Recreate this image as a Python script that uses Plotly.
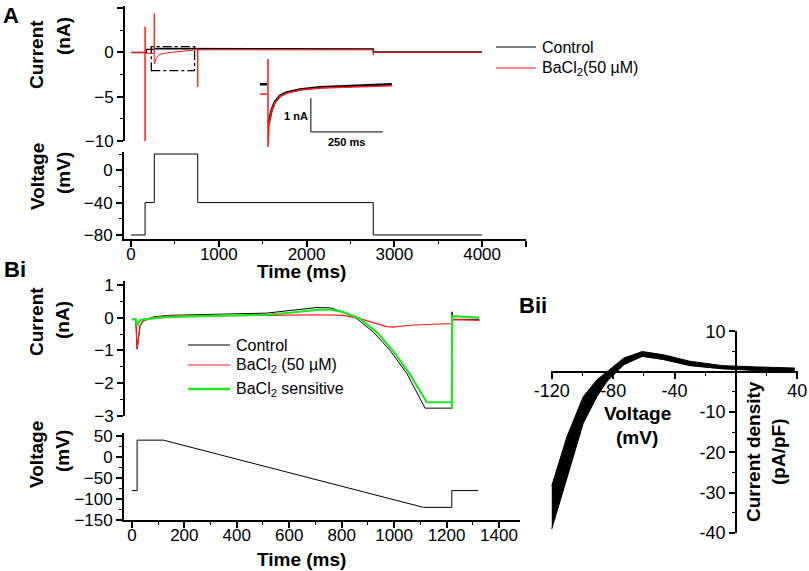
import plotly.graph_objects as go

W, H = 809, 571

def fx(px):
    return px / W

def fy(py):
    return 1 - py / H

# ---- Panel A: current traces (ms, nA)
a_ctrl_t = [0, 175, 175, 265, 265, 760, 760, 2760, 2760, 4000]
a_ctrl_i = [0, 0, 0.35, 0.35, 0.45, 0.45, 0.4, 0.4, 0.05, 0.05]
a_ba_t = [0, 160, 160, 160, 162, 265, 265, 265, 292, 330, 406, 557, 705,
          760, 760, 760, 763, 2760, 2760, 2762, 4000]
a_ba_i = [0, 0, -10, 2.9, -0.1, -0.1, 4.4, -1.3, -0.55, -0.22, -0.05, 0.15, 0.27,
          0.3, -3.9, 0.45, 0.3, 0.3, -2.8, 0.02, 0.02]

# dash-dot zoom box (ms, nA)
box_t = [231, 724]
box_i = [-2.05, 0.65]

# inset (ms, nA relative to control holding level)
ins_ctrl_t = [17, 42, None, 47, 48.6, 58, 69.4, 86.8, 110, 156, 226, 340, 475]
ins_ctrl_i = [0, 0, None, -1.15, -1.1, -0.75, -0.51, -0.34, -0.24, -0.15, -0.09, -0.04, 0.0]
ins_ba_t = [17, 42, None, 45, 45, 48.6, 58, 69.4, 86.8, 110, 156, 226, 340, 475]
ins_ba_i = [-0.29, -0.29, None, 0.74, -1.84, -1.2, -0.78, -0.53, -0.36, -0.26, -0.17, -0.11, -0.07, -0.04]
scale_t = [194, 194, 444]
scale_i = [-0.4, -1.4, -1.4]

# ---- Panel A: voltage protocol (ms, mV)
a_volt_t = [0, 160, 265, 760, 2760, 4000]
a_volt_v = [-80, -40, 20, -40, -80, -80]

# ---- Panel Bi: current traces (ms, nA)
bi_ctrl_t = [0, 15, 20, 31, 43, 81, 132, 260, 387, 514, 603, 705, 756, 807, 858,
             921, 985, 1049, 1118, 1220, 1221, 1221, 1225, 1325]
bi_ctrl_i = [-0.05, -0.05, -0.96, -0.25, -0.1, 0.02, 0.07, 0.1, 0.11, 0.14, 0.22,
             0.31, 0.3, 0.17, -0.03, -0.44, -1.0, -1.71, -2.76, -2.76, 0.18, -0.05, -0.05, -0.05]
bi_ba_t = [0, 15, 20, 31, 43, 81, 132, 260, 387, 514, 603, 705, 807, 870,
           921, 972, 997, 1061, 1150, 1219, 1222, 1325]
bi_ba_i = [-0.05, -0.05, -0.95, -0.25, -0.1, 0.0, 0.05, 0.05, 0.06, 0.07, 0.08,
           0.09, 0.07, -0.03, -0.15, -0.27, -0.29, -0.23, -0.2, -0.18, -0.06, -0.08]
bi_sens_t = [0, 15, 20, 30, 43, 132, 260, 387, 514, 603, 705, 756, 807, 870,
             934, 1000, 1060, 1125, 1220, 1220, 1222, 1325]
bi_sens_i = [-0.05, -0.05, -0.25, -0.08, -0.05, 0.02, 0.05, 0.07, 0.09, 0.15,
             0.24, 0.25, 0.17, -0.03, -0.44, -1.05, -1.72, -2.58, -2.58, -2.8, 0.05, 0.0]

# ---- Panel Bi: voltage ramp (ms, mV)
bi_volt_t = [0, 20, 20, 120, 1112, 1220, 1220, 1320]
bi_volt_v = [-80, -80, 40, 40, -120, -120, -80, -80]

# ---- Panel Bii: I-V band (mV, pA/pF)
iv_v = [-120, -110, -99.5, -90.6, -84, -73, -61, -47, -30, -8.4, 13.4, 38.4]
iv_upper = [-28.3, -16, -6.2, -2, 0, 3.4, 5, 4.2, 2.6, 1.5, 1.2, 0.9]
iv_lower = [-39, -26, -12.8, -6.2, -2.4, 1.75, 3.8, 3, 1.5, 0.7, 0.3, 0.1]

# legend labels
a_names = ["Control", "BaCl<sub>2</sub>(50 µM)"]
bi_names = ["Control", "BaCl<sub>2</sub> (50 µM)", "BaCl<sub>2</sub> sensitive"]

FONT = "Liberation Sans"
RED = "#ff1a1a"
GREEN = "#22e622"

fig = go.Figure()

# A current
fig.add_trace(go.Scatter(x=a_ctrl_t, y=a_ctrl_i, mode="lines", name=a_names[0],
                         line=dict(color="black", width=1.4), xaxis="x", yaxis="y"))
fig.add_trace(go.Scatter(x=a_ba_t, y=a_ba_i, mode="lines", name=a_names[1],
                         line=dict(color=RED, width=1), xaxis="x", yaxis="y"))
# inset
fig.add_trace(go.Scatter(x=ins_ctrl_t, y=ins_ctrl_i, mode="lines",
                         line=dict(color="black", width=2.5), xaxis="x3", yaxis="y3"))
fig.add_trace(go.Scatter(x=ins_ba_t, y=ins_ba_i, mode="lines",
                         line=dict(color=RED, width=1.5), xaxis="x3", yaxis="y3"))
fig.add_trace(go.Scatter(x=scale_t, y=scale_i, mode="lines",
                         line=dict(color="black", width=1), xaxis="x3", yaxis="y3"))
# A voltage
fig.add_trace(go.Scatter(x=a_volt_t, y=a_volt_v, mode="lines",
                         line=dict(color="black", width=1, shape="hv"),
                         xaxis="x2", yaxis="y2"))

# Bi current
fig.add_trace(go.Scatter(x=bi_ctrl_t, y=bi_ctrl_i, mode="lines", name=bi_names[0],
                         line=dict(color="black", width=1), xaxis="x4", yaxis="y4"))
fig.add_trace(go.Scatter(x=bi_ba_t, y=bi_ba_i, mode="lines", name=bi_names[1],
                         line=dict(color=RED, width=1.2), xaxis="x4", yaxis="y4"))
fig.add_trace(go.Scatter(x=bi_sens_t, y=bi_sens_i, mode="lines", name=bi_names[2],
                         line=dict(color=GREEN, width=2.2), xaxis="x4", yaxis="y4"))
# Bi voltage
fig.add_trace(go.Scatter(x=bi_volt_t, y=bi_volt_v, mode="lines",
                         line=dict(color="black", width=1), xaxis="x5", yaxis="y5"))

# Bii band
fig.add_trace(go.Scatter(x=iv_v, y=iv_lower, mode="lines",
                         line=dict(color="black", width=1), xaxis="x6", yaxis="y6"))
fig.add_trace(go.Scatter(x=iv_v, y=iv_upper, mode="lines", fill="tonexty",
                         fillcolor="black", line=dict(color="black", width=1),
                         xaxis="x6", yaxis="y6"))

# zoom box in A
fig.add_shape(type="rect", xref="x", yref="y", x0=box_t[0], x1=box_t[1],
              y0=box_i[0], y1=box_i[1], line=dict(color="black", width=1.3, dash="dashdot"))

# hand-drawn legends (line sample + label)
legend_items = [
    (a_names[0], "black", 1.2, 496, 536, 47),
    (a_names[1], RED, 1.2, 496, 536, 68),
    (bi_names[0], "black", 1.2, 188, 230, 345),
    (bi_names[1], RED, 1.2, 188, 230, 365),
    (bi_names[2], GREEN, 2.5, 188, 230, 389),
]
for name, col, lw, x0, x1, yy in legend_items:
    fig.add_shape(type="line", xref="paper", yref="paper", x0=fx(x0), x1=fx(x1),
                  y0=fy(yy), y1=fy(yy), line=dict(color=col, width=lw))
    fig.add_annotation(text=name, x=fx(x1 + 4), y=fy(yy), xref="paper", yref="paper",
                       showarrow=False, xanchor="left", yanchor="middle",
                       font=dict(family=FONT, size=16, color="black"))

tickfont = dict(family=FONT, size=17, color="black")
axis_common = dict(showline=True, linecolor="black", linewidth=1.8, ticks="outside",
                   ticklen=6, tickwidth=1.5, tickcolor="black", showgrid=False,
                   zeroline=False, tickfont=tickfont, automargin=False)
minor_common = dict(ticks="outside", ticklen=3, tickwidth=1.2, tickcolor="black", showgrid=False)

hidden = dict(visible=False, showgrid=False, zeroline=False, automargin=False)

fig.update_layout(
    template="none",
    showlegend=False,
    width=W, height=H,
    margin=dict(l=0, r=0, t=0, b=0, pad=0, autoexpand=False),
    plot_bgcolor="white", paper_bgcolor="white",
    font=dict(family=FONT, color="black"),
    # A current
    xaxis=dict(domain=[fx(124), fx(526)], range=[-80, 4500], anchor="y", **hidden),
    yaxis=dict(domain=[fy(141), fy(6)], range=[-10, 5.25], anchor="free", position=fx(124),
               tickvals=[-10, -5, 0, 5], minor=dict(dtick=2.5, **minor_common),
               **axis_common),
    # A voltage
    xaxis2=dict(domain=[fx(124), fx(526)], range=[-80, 4500], anchor="y2",
                tickvals=[0, 1000, 2000, 3000, 4000, 4500], ticktext=["0", "1000", "2000", "3000", "4000", " "],
                minor=dict(dtick=500, **minor_common), ticklabelstandoff=-7, **axis_common),
    yaxis2=dict(domain=[fy(239), fy(152)], range=[-85, 22.5], anchor="x2",
                tickvals=[-80, -40, 0], minor=dict(dtick=20, **minor_common), **axis_common),
    # inset
    xaxis3=dict(domain=[fx(255), fx(399)], range=[0, 500], anchor="y3", **hidden),
    yaxis3=dict(domain=[fy(152), fy(55)], range=[-1.99, 0.86], anchor="x3", **hidden),
    # Bi current
    xaxis4=dict(domain=[fx(124), fx(520)], range=[-30, 1480], anchor="y4", **hidden),
    yaxis4=dict(domain=[fy(416), fy(281)], range=[-3, 1.12], anchor="free", position=fx(124),
                tickvals=[-3, -2, -1, 0, 1], minor=dict(dtick=0.5, **minor_common),
                **axis_common),
    # Bi voltage
    xaxis5=dict(domain=[fx(124), fx(520)], range=[-30, 1480], anchor="y5",
                tickvals=[0, 200, 400, 600, 800, 1000, 1200, 1400],
                minor=dict(dtick=100, **minor_common), ticklabelstandoff=-7, **axis_common),
    yaxis5=dict(domain=[fy(520), fy(433)], range=[-150, 57], anchor="x5",
                tickvals=[-150, -100, -50, 0, 50], minor=dict(dtick=25, **minor_common),
                **axis_common),
    # Bii
    xaxis6=dict(domain=[fx(551), fx(798)], range=[-120.5, 40.5], anchor="free", position=fy(372),
                tickvals=[-120, -80, -40, 0, 40], ticktext=["-120", "-80", "-40", " ", "40"],
                minor=dict(dtick=20, **minor_common), ticklabelstandoff=-4,
                **{**axis_common, "tickfont": dict(family=FONT, size=18, color="black")}),
    yaxis6=dict(domain=[fy(533), fy(331)], range=[-40, 10.1], anchor="free", position=fx(736),
                tickvals=[-40, -30, -20, -10, 0, 10], ticktext=["-40", "-30", "-20", "-10", " ", "10"],
                minor=dict(dtick=5, **minor_common),
                **{**axis_common, "tickfont": dict(family=FONT, size=18, color="black")}),
)

texts = [
    # text, x px, y px, angle, size
    ("<b>A</b>", 11, 15, 0, 22),
    ("<b>Bi</b>", 15, 270, 0, 22),
    ("<b>Bii</b>", 533, 305, 0, 22),
    ("<b>Current</b>", 37, 55, -90, 19),
    ("<b>(nA)</b>", 63, 36, -90, 19),
    ("<b>Voltage</b>", 37, 177, -90, 19),
    ("<b>(mV)</b>", 63, 173, -90, 19),
    ("<b>Time (ms)</b>", 301, 271, 0, 19),
    ("<b>Current</b>", 36, 322, -90, 19),
    ("<b>(nA)</b>", 62, 320, -90, 19),
    ("<b>Voltage</b>", 36, 455, -90, 19),
    ("<b>(mV)</b>", 62, 451, -90, 19),
    ("<b>Time (ms)</b>", 301, 559, 0, 19),
    ("<b>Voltage</b>", 637, 413, 0, 19),
    ("<b>(mV)</b>", 637, 437, 0, 19),
    ("<b>Current density</b>", 753, 452, -90, 19),
    ("<b>(pA/pF)</b>", 778, 452, -90, 19),
    ("<b>1 nA</b>", 296, 116, 0, 11),
    ("<b>250 ms</b>", 346, 142, 0, 11),
]
for txt, px, py, ang, sz in texts:
    fig.add_annotation(text=txt, x=fx(px), y=fy(py), xref="paper", yref="paper",
                       showarrow=False, textangle=ang, xanchor="center", yanchor="middle",
                       font=dict(family=FONT, size=sz, color="black"))

# the page's default 8px body margin would shift the whole figure
fig.write_html("out.html", config={"displayModeBar": False},
               post_script="document.body.style.margin='0';")
